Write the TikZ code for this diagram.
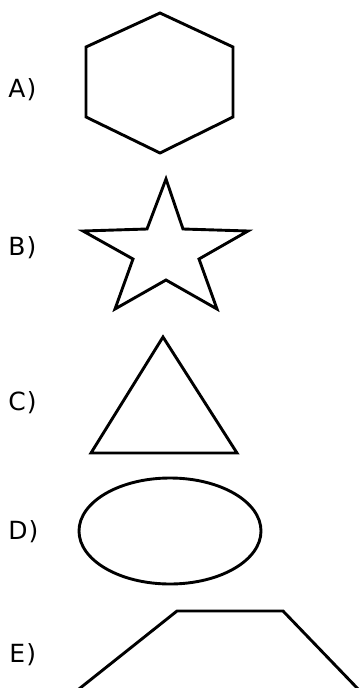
\documentclass[tikz,border=0pt]{standalone}
\usepackage{fontspec}
\setmainfont{DejaVu Sans}
\usepackage{tikz}
\usetikzlibrary{positioning}

\begin{document}
\begin{tikzpicture}[x=1pt, y=-1pt, line width=2.9pt, line join=miter,
    lbl/.style={anchor=west, inner sep=0pt, font=\fontsize{25}{28}\selectfont}]
    \useasboundingbox (0,0) rectangle (360,688);
    \clip (0,0) rectangle (360,688);

    % Labels
    \node[lbl] (LA) at (7,90) {A\kern1pt)};
    \node[lbl] (LB) at (7,248) {B\kern1pt)};
    \node[lbl] (LC) at (7,403) {C\kern1pt)};
    \node[lbl] (LD) at (7,532) {D\kern1pt)};
    \node[lbl] (LE) at (8,655) {E\kern1pt)};

    % A: hexagon
    \draw (160,13) -- (233,47) -- (233,117) -- (160,153) -- (86,117) -- (86,47) -- cycle;

    % B: star
    \draw (166,179) -- (183,229) -- (248,231) -- (199,259) -- (217,309)
        -- (166,280) -- (115,309) -- (133,259) -- (83,231) -- (147,229) -- cycle;

    % C: triangle
    \draw (163,337) -- (237,453) -- (91,453) -- cycle;

    % D: ellipse
    \draw (170,531) ellipse (91 and 53);

    % E: trapezoid (cut off at the bottom)
    \draw (45,716) -- (177,611) -- (283,611) -- (385,717);
\end{tikzpicture}
\end{document}
